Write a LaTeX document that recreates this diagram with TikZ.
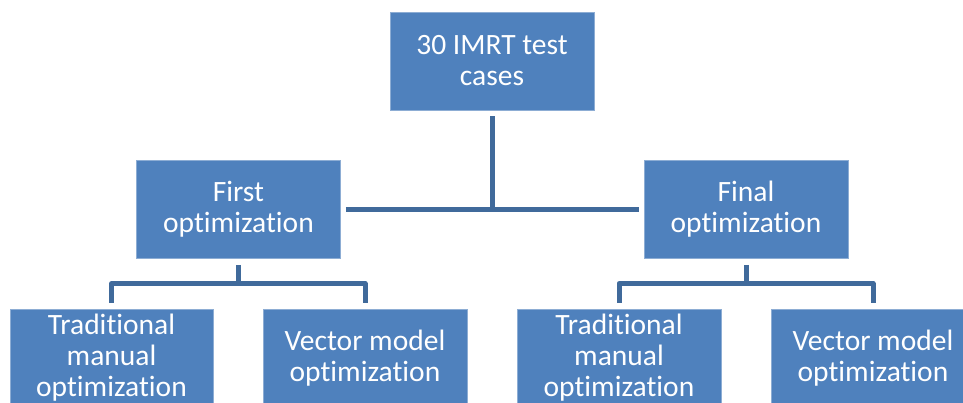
\documentclass[tikz,border=0pt]{standalone}
\usepackage{fontspec}
\setmainfont{Carlito}[Ligatures={NoCommon}]
\usepackage{tikz}
\definecolor{boxblue}{RGB}{79,129,189}
\definecolor{lineblue}{RGB}{64,106,155}
\tikzset{
  orgbox/.style={rectangle, fill=boxblue, draw=white!35!boxblue, line width=0.8pt,
    minimum width=204pt, minimum height=98pt, text=white, align=center,
    font=\fontsize{29.5}{31}\selectfont, inner sep=0pt},
  conn/.style={draw=lineblue, line width=5pt, line join=round}
}

\begin{document}
\begin{tikzpicture}[x=1pt,y=-1pt]
  \useasboundingbox (0,0) rectangle (963,403);
  \node[orgbox] (top) at (492,61) {30 IMRT test\\cases};
  \node[orgbox] (first) at (238.5,209.5) {First\\optimization};
  \node[orgbox] (final) at (746,209.5) {Final\\optimization};
  \node[orgbox, minimum width=203pt] (trad1) at (111.5,358) {Traditional\\manual\\optimization};
  \node[orgbox] (vec1) at (365,358) {Vector model\\optimization};
  \node[orgbox] (trad2) at (619,358) {Traditional\\manual\\optimization};
  \node[orgbox] (vec2) at (873,358) {Vector model\\optimization};
  \draw[conn] ([xshift=5pt]first.east) -- ([xshift=-5pt]final.west);
  \draw[conn] ([yshift=-6pt]top.south) -- (top.south |- first.east);
  \draw[conn] ([yshift=-6pt]first.south) -- ([yshift=-24pt]first.south);
  \draw[conn] ([yshift=6pt]trad1.north) |- ([yshift=25pt]vec1.north) -- ([yshift=6pt]vec1.north);
  \draw[conn] ([yshift=-6pt]final.south) -- ([yshift=-24pt]final.south);
  \draw[conn] ([yshift=6pt]trad2.north) |- ([yshift=25pt]vec2.north) -- ([yshift=6pt]vec2.north);
\end{tikzpicture}
\end{document}
